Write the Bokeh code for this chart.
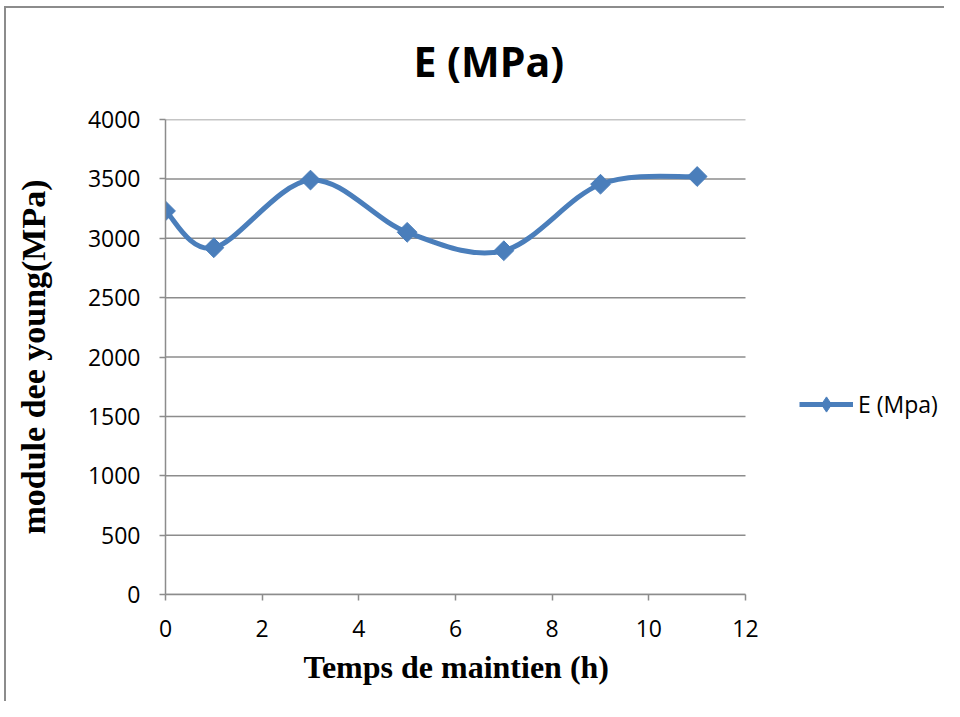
import numpy as np
from bokeh.plotting import figure
from bokeh.models import Range1d, FixedTicker, Legend, LegendItem, ColumnDataSource, Title
from bokeh.embed import file_html
from bokeh.resources import INLINE

# ---- data ----
hours = [0, 1, 3, 5, 7, 9, 11]
young_mpa = [3230, 2920, 3490, 3050, 2895, 3455, 3520]
series_name = "E (Mpa)"
chart_title = "E (MPa)"
x_label = "Temps de maintien (h)"
y_label = "module dee young(MPa)"
x_ticks = [0, 2, 4, 6, 8, 10, 12]
y_ticks = [0, 500, 1000, 1500, 2000, 2500, 3000, 3500, 4000]
x_min, x_max = 0, 12
y_min, y_max = 0, 4000

BLUE = "#4a7ebb"
GRID = "#8c8c8c"

# layout (pixels)
W, H = 944, 701
LEFT, TOP, BOTTOM = 165, 119, 107
PLOT_W = 580  # pixel width of the 0..12 axis
frame_w = W - LEFT
x_view_end = x_min + (x_max - x_min) * frame_w / PLOT_W

p = figure(width=W, height=H, output_backend="svg", toolbar_location=None,
           x_range=Range1d(x_min, x_view_end), y_range=Range1d(y_min, y_max),
           min_border_left=LEFT, min_border_top=TOP, min_border_right=0,
           min_border_bottom=BOTTOM)
p.styles = {
    "background-color": "white",
    "background-image": "linear-gradient(#8c8c8c, #8c8c8c), linear-gradient(#8c8c8c, #8c8c8c)",
    "background-size": "2px 100%, 100% 2px",
    "background-position": "4px 6px, 4px 6px",
    "background-repeat": "no-repeat",
}
p.outline_line_color = None
p.background_fill_color = "white"
p.border_fill_color = None

# title
p.title.text = chart_title
p.title.align = "left"
p.title.offset = 248
p.title.standoff = 61
p.title.text_font = "Open Sans"
p.title.text_font_size = "41px"
p.title.text_font_style = "bold"
p.title.text_color = "black"

# horizontal gridlines limited to the 0..12 axis span
p.segment(x0=[x_min] * len(y_ticks), x1=[x_max] * len(y_ticks), y0=y_ticks, y1=y_ticks,
          line_color=GRID, line_width=1.5)

# smooth curve (Excel-like smoothed line) via Bezier segments
xs = np.array(hours, dtype=float)
ys = np.array(young_mpa, dtype=float)
xprev = np.concatenate([[xs[0]], xs[:-1]])
yprev = np.concatenate([[ys[0]], ys[:-1]])
xnext = np.concatenate([xs[1:], [xs[-1]]])
ynext = np.concatenate([ys[1:], [ys[-1]]])
tx = (xnext - xprev) / 6.0
ty = (ynext - yprev) / 6.0
bez = ColumnDataSource(dict(
    x0=xs[:-1], y0=ys[:-1], x1=xs[1:], y1=ys[1:],
    cx0=xs[:-1] + tx[:-1], cy0=ys[:-1] + ty[:-1],
    cx1=xs[1:] - tx[1:], cy1=ys[1:] - ty[1:],
))
p.bezier(x0="x0", y0="y0", x1="x1", y1="y1", cx0="cx0", cy0="cy0",
         cx1="cx1", cy1="cy1", source=bez, line_color=BLUE, line_width=5)

marks = p.scatter(hours, young_mpa, marker="square", size=14, angle=np.pi / 4,
                  fill_color=BLUE, line_color=BLUE)

# legend helpers: a single-point line (invisible on the plot) and a small
# diamond hidden inside the first marker; they supply the legend's glyphs
legend_line = p.line(x=hours[:1], y=young_mpa[:1], line_color=BLUE, line_width=5)
legend_mark = p.scatter(x=hours[:1], y=young_mpa[:1], marker="diamond", size=12,
                        fill_color=BLUE, line_color=BLUE)

legend = Legend(items=[LegendItem(label=series_name, renderers=[legend_line, legend_mark])],
                location=(634, 171), padding=0, margin=0, spacing=0,
                glyph_width=54, glyph_height=38, label_height=28,
                label_standoff=5, border_line_color=None,
                background_fill_alpha=0,
                label_text_font="Open Sans", label_text_font_size="23px",
                label_text_color="black")
p.add_layout(legend)

# axes
for ax in (p.xaxis, p.yaxis):
    ax.axis_line_color = GRID
    ax.axis_line_width = 1.5
    ax.major_tick_line_color = GRID
    ax.major_tick_line_width = 1.5
    ax.major_tick_in = 0
    ax.major_tick_out = 6
    ax.minor_tick_line_color = None
    ax.major_label_text_font = "Open Sans"
    ax.major_label_text_font_size = "23px"
    ax.major_label_text_color = "black"
    ax.axis_label_text_font = "Liberation Serif"
    ax.axis_label_text_font_style = "bold"
    ax.axis_label_text_color = "black"

p.xaxis.bounds = (x_min, x_max)
p.yaxis.axis_label_text_font_size = "34px"
p.xaxis.ticker = FixedTicker(ticks=x_ticks)
p.yaxis.ticker = FixedTicker(ticks=y_ticks)
p.yaxis.axis_label = y_label
p.xaxis.major_label_standoff = 19
p.yaxis.major_label_standoff = 19
p.yaxis.axis_label_standoff = 33

# x-axis title, centred under the 0..12 span
xt = Title(text=x_label, align="left", offset=138, standoff=15,
           text_font="Liberation Serif", text_font_style="bold",
           text_font_size="32px", text_color="black")
p.add_layout(xt, "below")

p.xgrid.visible = False
p.ygrid.visible = False

open("out.html", "w").write(file_html(p, INLINE))
